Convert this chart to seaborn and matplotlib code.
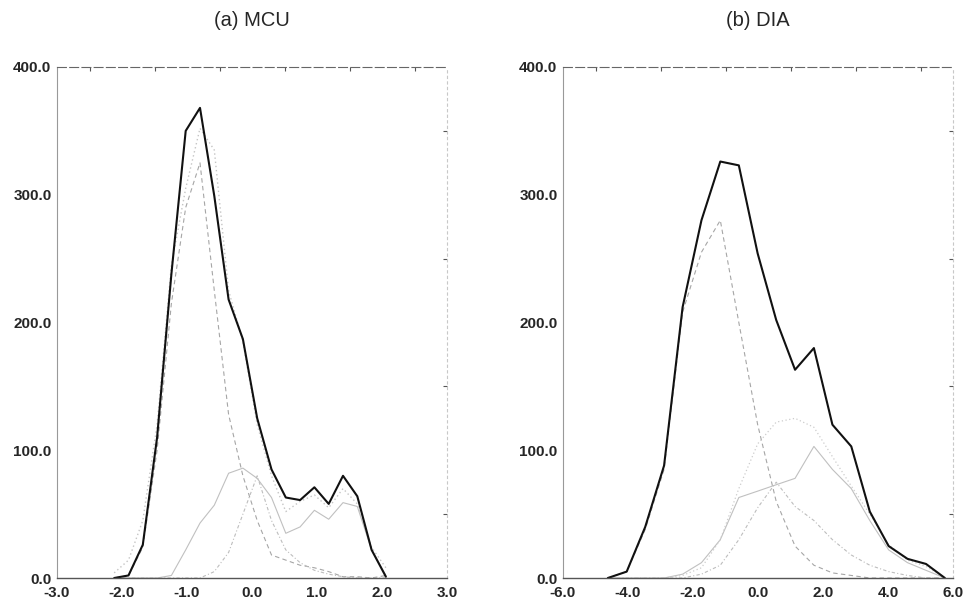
import numpy as np
import pandas as pd
import matplotlib
matplotlib.use("Agg")
import matplotlib.pyplot as plt
from matplotlib.ticker import MultipleLocator, FormatStrFormatter
import seaborn as sns

# ---------------- data: panel (a) MCU ----------------
x_a = [-2.12, -1.90, -1.68, -1.46, -1.24, -1.02, -0.80, -0.58, -0.36, -0.14,
       0.08, 0.30, 0.52, 0.74, 0.96, 1.18, 1.40, 1.62, 1.84, 2.06]
total_a = [0, 2, 26, 110, 238, 350, 368, 299, 218, 187,
           125, 85, 63, 61, 71, 58, 80, 64, 22, 1]
fit_a = [4, 14, 45, 120, 245, 305, 352, 335, 225, 185,
         120, 80, 52, 60, 65, 55, 70, 58, 24, 8]
comp1_a = [0, 2, 24, 100, 215, 290, 325, 225, 128, 80,
           45, 18, 14, 10, 8, 5, 1, 1, 0, 2]
comp2_a = [0, 0, 0, 0, 2, 22, 43, 57, 82, 86,
           78, 63, 35, 40, 53, 46, 59, 56, 22, 2]
comp3_a = [0, 0, 0, 0, 0, 0, 0, 5, 20, 50,
           80, 45, 22, 12, 6, 3, 1, 0, 0, 0]

# ---------------- data: panel (b) DIA ----------------
x_b = [-4.62, -4.04, -3.47, -2.89, -2.32, -1.74, -1.16, -0.59, -0.01, 0.56,
       1.14, 1.72, 2.29, 2.87, 3.44, 4.02, 4.60, 5.17, 5.75]
total_b = [0, 5, 40, 88, 212, 280, 326, 323, 254, 202,
           163, 180, 120, 103, 52, 25, 15, 11, 0]
comp1_b = [0, 5, 38, 85, 208, 255, 280, 200, 120, 60,
           25, 10, 4, 2, 0, 0, 0, 0, 0]
comp2_b = [0, 0, 0, 0, 3, 12, 30, 63, 68, 73,
           78, 103, 85, 70, 45, 22, 12, 6, 0]
comp3_b = [0, 0, 0, 0, 0, 3, 10, 30, 55, 75,
           56, 45, 30, 18, 10, 5, 2, 0, 0]
comp4_b = [0, 0, 0, 0, 2, 8, 30, 70, 105, 122,
           125, 118, 95, 72, 50, 26, 14, 9, 0]

titles = ["(a) MCU", "(b) DIA"]
xlims = [(-3.0, 3.0), (-6.0, 6.0)]
xmajor = [1.0, 2.0]
xminor = [0.5, 1.0]

# ---------------- style ----------------
sns.set_style("white")
plt.rcParams["font.family"] = ["Liberation Sans", "DejaVu Sans"]

series_style = {
    "fit":   dict(color="#c4c4c4", dashes=(1, 2), lw=1.0),
    "comp1": dict(color="#a6a6a6", dashes=(4, 3), lw=0.8),
    "comp2": dict(color="#c0c0c0", dashes="", lw=0.8),
    "comp3": dict(color="#bdbdbd", dashes=(3, 2, 1, 2), lw=0.8),
    "comp4": dict(color="#cccccc", dashes=(1, 2), lw=0.9),
    "total": dict(color="#111111", dashes="", lw=1.5),
}


def long_df(x, **cols):
    frames = []
    for name, vals in cols.items():
        frames.append(pd.DataFrame({"x": x, "y": vals, "series": name}))
    return pd.concat(frames, ignore_index=True)


df_a = long_df(x_a, fit=fit_a, comp1=comp1_a, comp2=comp2_a, comp3=comp3_a,
               total=total_a)
df_b = long_df(x_b, comp1=comp1_b, comp2=comp2_b, comp3=comp3_b, comp4=comp4_b,
               total=total_b)

W, H = 964, 601
fig = plt.figure(figsize=(W / 100, H / 100), dpi=100)
ax_a = fig.add_axes([57 / W, 23 / H, 390 / W, 511 / H])
ax_b = fig.add_axes([563 / W, 23 / H, 390 / W, 511 / H])

for ax, df, title, xl, xmj, xmn in zip([ax_a, ax_b], [df_a, df_b], titles,
                                       xlims, xmajor, xminor):
    order = list(dict.fromkeys(df["series"]))
    sns.lineplot(data=df, x="x", y="y", hue="series", style="series",
                 size="series", hue_order=order, style_order=order,
                 size_order=order,
                 palette={k: series_style[k]["color"] for k in order},
                 dashes={k: series_style[k]["dashes"] for k in order},
                 sizes={k: series_style[k]["lw"] for k in order},
                 estimator=None, sort=False, legend=False, ax=ax)
    ax.set_xlim(*xl)
    ax.set_ylim(0, 400)
    ax.set_xlabel("")
    ax.set_ylabel("")
    ax.xaxis.set_major_locator(MultipleLocator(xmj))
    ax.xaxis.set_minor_locator(MultipleLocator(xmn))
    ax.yaxis.set_major_locator(MultipleLocator(100))
    ax.yaxis.set_minor_locator(MultipleLocator(50))
    ax.xaxis.set_major_formatter(FormatStrFormatter("%.1f"))
    ax.yaxis.set_major_formatter(FormatStrFormatter("%.1f"))
    ax.tick_params(which="both", direction="in", top=True, right=True,
                   length=3, width=0.8, color="#555555", labelsize=11)
    ax.tick_params(which="major", length=0)
    ax.tick_params(axis="x", which="major", pad=6)
    ax.tick_params(axis="y", which="major", pad=4)
    for lab in ax.get_xticklabels() + ax.get_yticklabels():
        lab.set_fontweight("bold")
    ax.spines["left"].set_color("#999999")
    ax.spines["left"].set_linewidth(0.8)
    ax.spines["left"].set_linestyle((0, (6, 1)))
    ax.spines["top"].set_color("#666666")
    ax.spines["top"].set_linewidth(0.8)
    ax.spines["top"].set_linestyle((0, (8, 3)))
    ax.spines["right"].set_color("#c8c8c8")
    ax.spines["right"].set_linewidth(0.8)
    ax.spines["right"].set_linestyle((0, (2, 3)))
    ax.spines["bottom"].set_color("#555555")
    ax.spines["bottom"].set_linewidth(1.0)
    ax.spines["bottom"].set_linestyle((0, (10, 1)))
    pos = ax.get_position()
    fig.text(pos.x0 + pos.width / 2, 1 - 21 / H, title, ha="center",
             va="center", fontsize=14.5)

fig.savefig("out.png", dpi=100)
